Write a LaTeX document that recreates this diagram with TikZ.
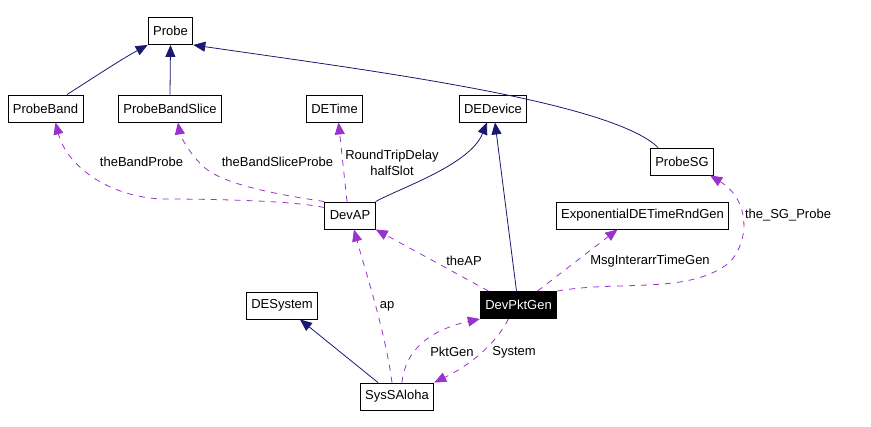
\documentclass[tikz,border=0pt]{standalone}
\usepackage{fontspec}
\setmainfont{Liberation Sans}
\usepackage{tikz}
\usetikzlibrary{arrows.meta}
\definecolor{cNavy}{HTML}{191970}
\definecolor{cOrchid}{HTML}{9A32CD}
\newcommand{\dxfont}{\fontsize{13}{16}\selectfont}
\tikzset{
  cls/.style={rectangle, draw=black, fill=white, line width=0.9pt,
    minimum height=27pt, inner xsep=5pt, inner ysep=2pt, font=\dxfont},
  hcls/.style={cls, fill=black, text=white},
  inh/.style={-{Triangle[length=12pt, width=10pt]}, line width=0.8pt, cNavy},
  assoc/.style={-{Triangle[length=12pt, width=10pt]}, line width=0.8pt, cOrchid,
    dash pattern=on 6pt off 6pt},
  lbl/.style={font=\dxfont, inner sep=1pt, align=center},
}
\begin{document}
\begin{tikzpicture}[x=1pt, y=-1pt]
  \useasboundingbox (0,0) rectangle (871,427);

  % classes
  \node[cls] (probe) at (170.5,31) {Probe};
  \node[cls] (probeband) at (45.5,108.5) {ProbeBand};
  \node[cls] (probebandslice) at (170,108.5) {ProbeBandSlice};
  \node[cls] (detime) at (334.5,108.5) {DETime};
  \node[cls] (dedevice) at (493,108.5) {DEDevice};
  \node[cls] (probesg) at (682,161.5) {ProbeSG};
  \node[cls] (expgen) at (642.5,215.5) {ExponentialDETimeRndGen};
  \node[cls] (devap) at (350,215.5) {DevAP};
  \node[cls] (desystem) at (282,305.5) {DESystem};
  \node[hcls] (devpktgen) at (518.5,305) {DevPktGen};
  \node[cls] (syssaloha) at (397,396.5) {SysSAloha};

  % inheritance
  \draw[inh] ([xshift=21.5pt]probeband.north) .. controls (90,80) and (120,60) .. (probe.south west);
  \draw[inh] (probebandslice.north) -- (probe.south);
  \draw[inh] ([xshift=-24pt]probesg.north) .. controls (610,100) and (350,68) .. (probe.south east);
  \draw[inh] (devap.north east) .. controls (400,188) and (470,165) .. ([xshift=-6pt]dedevice.south);
  \draw[inh] ([xshift=-2pt]devpktgen.north) -- ([xshift=2pt]dedevice.south);
  \draw[inh] ([xshift=-19pt]syssaloha.north) -- ([xshift=18pt]desystem.south);

  % usage
  \draw[assoc] ([yshift=-6pt]devap.north west) .. controls (290,200) and (200,199) .. (160,199)
    .. controls (100,195) and (65,160) .. ([xshift=10pt]probeband.south);
  \draw[assoc] (devap.north west) .. controls (280,195) and (225,185) .. (205,168)
    .. controls (190,155) and (180,135) .. ([xshift=8pt]probebandslice.south);
  \draw[assoc] ([xshift=-3pt]devap.north) -- ([xshift=4pt]detime.south);
  \draw[assoc] ([xshift=-30pt]devpktgen.north) -- (devap.south east);
  \draw[assoc] ([xshift=19pt]devpktgen.north) -- ([xshift=-25pt]expgen.south);
  \draw[assoc] (devpktgen.north east) .. controls (620,280) and (690,295) .. (730,262)
    .. controls (750,240) and (750,200) .. ([xshift=-4pt]probesg.south east);
  \draw[assoc] ([xshift=-5pt]syssaloha.north) .. controls (385,330) and (365,270) .. ([xshift=4pt]devap.south);
  \draw[assoc] ([xshift=5pt]syssaloha.north) .. controls (405,350) and (430,330) .. (devpktgen.south west);
  \draw[assoc] ([xshift=-10pt]devpktgen.south) .. controls (495,345) and (470,365) .. (syssaloha.north east);

  % labels
  \node[lbl] (lbandprobe) at (141.5,162) {theBandProbe};
  \node[lbl] (lsliceprobe) at (277.5,162) {theBandSliceProbe};
  \node[lbl] (ldelay) at (392,163) {RoundTripDelay\\halfSlot};
  \node[lbl] (lap) at (464,261) {theAP};
  \node[lbl] (lmsggen) at (650,261) {MsgInterarrTimeGen};
  \node[lbl] (lsgprobe) at (788,215.5) {the\_SG\_Probe};
  \node[lbl] (lapx) at (387,306) {ap};
  \node[lbl] (lpktgen) at (452,352) {PktGen};
  \node[lbl] (lsystem) at (514,352) {System};

\end{tikzpicture}
\end{document}
